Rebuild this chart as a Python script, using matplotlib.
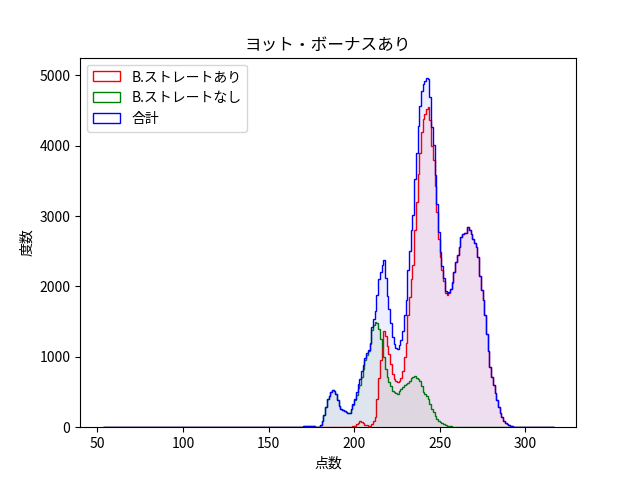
import numpy as np
import matplotlib
matplotlib.use("Agg")
import matplotlib.pyplot as plt
from matplotlib.patches import Patch

plt.rcParams['font.family'] = ['Noto Sans CJK JP', 'DejaVu Sans']

# score range of the histogram (1 point per bin)
score_min = 53
score_max = 316

# B.ストレートなし counts, scores 170..262
green_start = 170
green_counts = [20, 20, 20, 20, 20, 20, 15, 5, 3, 5,
                30, 90, 180, 290, 400, 450, 500, 530, 510, 470,
                390, 300, 260, 240, 235, 210, 200, 205, 260, 320,
                380, 460, 560, 600, 720, 830, 950, 1030, 1080, 1180,
                1380, 1450, 1500, 1480, 1400, 1250, 1150, 1000, 820, 720,
                640, 580, 520, 500, 480, 470, 510, 540, 570, 600,
                610, 630, 650, 700, 720, 730, 700, 680, 660, 580,
                500, 470, 440, 400, 330, 260, 210, 160, 120, 90,
                70, 55, 45, 30, 22, 15, 10, 8, 5, 3,
                2, 1, 1]

# B.ストレートあり counts, scores 197..299
red_start = 197
red_counts = [3, 5, 10, 20, 40, 60, 90, 80, 55, 35,
              25, 22, 22, 40, 90, 150, 400, 700, 950, 1150,
              1370, 1300, 1150, 1040, 900, 760, 680, 650, 640, 660,
              700, 800, 1000, 1200, 1600, 1850, 2100, 2300, 2800, 3200,
              3600, 3900, 4200, 4380, 4450, 4520, 4550, 4360, 4000, 3800,
              3420, 3050, 2680, 2420, 2230, 2080, 1900, 1880, 1900, 1960,
              2050, 2200, 2350, 2450, 2560, 2700, 2740, 2760, 2760, 2840,
              2800, 2740, 2680, 2620, 2560, 2420, 2150, 1950, 1800, 1600,
              1320, 1080, 850, 720, 600, 480, 380, 280, 200, 140,
              95, 65, 45, 30, 18, 12, 8, 5, 3, 2,
              1, 1, 1]

labels = ['B.ストレートあり', 'B.ストレートなし', '合計']
colors = ['red', 'green', 'blue']


def full_counts(start, counts):
    arr = np.zeros(score_max - score_min + 1)
    arr[start - score_min:start - score_min + len(counts)] = counts
    return arr


edges = np.arange(score_min, score_max + 2)
red = full_counts(red_start, red_counts)
green = full_counts(green_start, green_counts)
total = red + green

fig, ax = plt.subplots(figsize=(6.4, 4.8), dpi=100)

for vals, c in zip([red, green, total], colors):
    ax.stairs(vals, edges, fill=True, color=c, alpha=0.065, linewidth=0)
    ax.stairs(vals, edges, color=c, linewidth=1)

handles = [Patch(facecolor='none', edgecolor=c, label=lab)
           for c, lab in zip(colors, labels)]

ax.set_xlim(39.8, 329.6)
ax.set_ylim(0, 5250)
ax.set_title('ヨット・ボーナスあり')
ax.set_xlabel('点数')
ax.set_ylabel('度数')
ax.legend(handles=handles, loc='upper left')

fig.savefig('out.png')
